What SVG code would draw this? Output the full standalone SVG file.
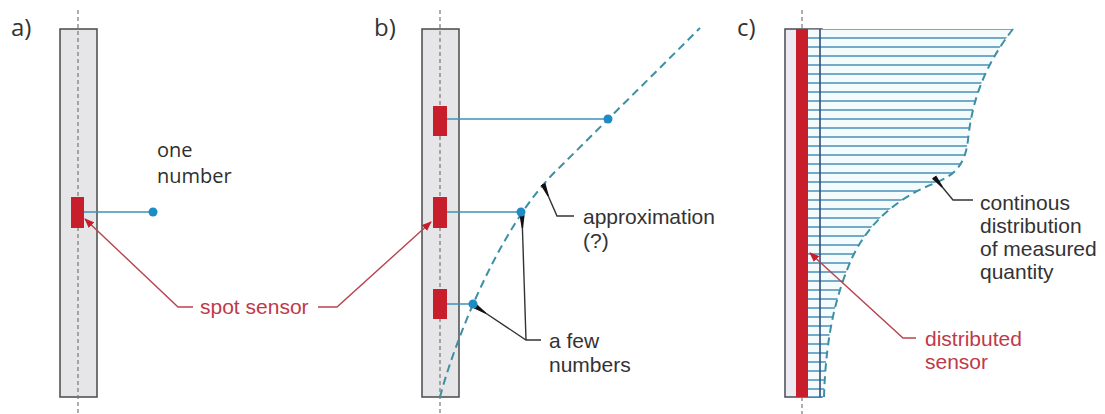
<svg xmlns="http://www.w3.org/2000/svg" width="1105" height="414" viewBox="0 0 1105 414">
<style>
.bar{fill:#e6e6e8;stroke:#4a4a4a;stroke-width:1.5}
.axis{stroke:#777;stroke-width:1.2;stroke-dasharray:4 3;fill:none}
.sensor{fill:#c81e2c}
.blue{stroke:#3f8fb8;stroke-width:1.5;fill:none}
.dot{fill:#1e8cc4}
.curve{stroke:#3d8fa3;stroke-width:2;stroke-dasharray:8 5;fill:none}
.rlead{stroke:#b9434f;stroke-width:1.4;fill:none}
.klead{stroke:#333;stroke-width:1.4;fill:none}
.hatch{stroke:#4a8fb4;stroke-width:1.3}
.lbl{font-family:"Open Sans","Liberation Sans",sans-serif;font-size:24px;fill:#333}
.t{font-family:"Liberation Sans",Arial,sans-serif;font-size:21px;fill:#333}
.t2{font-family:"Open Sans","Liberation Sans",sans-serif;font-size:20px;fill:#2e2e2e}
.tr{font-family:"Liberation Sans",Arial,sans-serif;font-size:21px;fill:#c0394a}
</style>
<defs>
<marker id="ra" viewBox="0 0 10 8" refX="9" refY="4" markerWidth="10" markerHeight="8" markerUnits="userSpaceOnUse" orient="auto-start-reverse">
<path d="M0,0 L10,4 L0,8 z" fill="#c81e2c"/>
</marker>
<marker id="ka" viewBox="0 0 13 6" refX="0" refY="3" markerWidth="13" markerHeight="6" markerUnits="userSpaceOnUse" orient="auto">
<path d="M0,0.4 L13,2.3 L13,3.7 L0,5.6 z" fill="#111"/>
</marker>
<clipPath id="cc">
<path d="M808,29 L1013,29 C985,65 972,100 968,140 C965,165 955,175 935,183 C900,197 870,220 852,258 C838,290 826,330 824,397 L808,397 z"/>
</clipPath>
</defs>

<g id="label-a"><text class="lbl" x="11" y="36">a)</text></g>
<g id="label-b"><text class="lbl" x="374" y="36">b)</text></g>
<g id="label-c"><text class="lbl" x="737" y="36">c)</text></g>

<g id="panel-a">
<rect class="bar" x="60" y="29" width="37" height="368"/>
<line class="axis" x1="78" y1="10" x2="78" y2="414"/>
<rect class="sensor" x="71" y="197" width="13" height="31"/>
</g>

<g id="panel-b">
<rect class="bar" x="422" y="29" width="37" height="368"/>
<line class="axis" x1="440" y1="10" x2="440" y2="414"/>
<rect class="sensor" x="433" y="106" width="14" height="30"/>
<rect class="sensor" x="433" y="197" width="14" height="31"/>
<rect class="sensor" x="433" y="289" width="14" height="30"/>
</g>

<g id="panel-c">
<rect x="785" y="29" width="37" height="368" fill="#ecebf2" stroke="#4a4a55" stroke-width="1.5"/>
<rect class="sensor" x="796" y="29" width="13" height="368"/>
<g clip-path="url(#cc)">
<rect x="808" y="29" width="210" height="368" fill="#f3fbfd"/>
<g class="hatch">
<line x1="800" y1="29" x2="1020" y2="29"/><line x1="800" y1="38" x2="1020" y2="38"/><line x1="800" y1="47" x2="1020" y2="47"/><line x1="800" y1="56" x2="1020" y2="56"/><line x1="800" y1="65" x2="1020" y2="65"/><line x1="800" y1="74" x2="1020" y2="74"/><line x1="800" y1="83" x2="1020" y2="83"/><line x1="800" y1="92" x2="1020" y2="92"/><line x1="800" y1="101" x2="1020" y2="101"/><line x1="800" y1="110" x2="1020" y2="110"/><line x1="800" y1="119" x2="1020" y2="119"/><line x1="800" y1="128" x2="1020" y2="128"/><line x1="800" y1="137" x2="1020" y2="137"/><line x1="800" y1="146" x2="1020" y2="146"/><line x1="800" y1="155" x2="1020" y2="155"/><line x1="800" y1="164" x2="1020" y2="164"/><line x1="800" y1="173" x2="1020" y2="173"/><line x1="800" y1="182" x2="1020" y2="182"/><line x1="800" y1="191" x2="1020" y2="191"/><line x1="800" y1="200" x2="1020" y2="200"/><line x1="800" y1="209" x2="1020" y2="209"/><line x1="800" y1="218" x2="1020" y2="218"/><line x1="800" y1="227" x2="1020" y2="227"/><line x1="800" y1="236" x2="1020" y2="236"/><line x1="800" y1="245" x2="1020" y2="245"/><line x1="800" y1="254" x2="1020" y2="254"/><line x1="800" y1="263" x2="1020" y2="263"/><line x1="800" y1="272" x2="1020" y2="272"/><line x1="800" y1="281" x2="1020" y2="281"/><line x1="800" y1="290" x2="1020" y2="290"/><line x1="800" y1="299" x2="1020" y2="299"/><line x1="800" y1="308" x2="1020" y2="308"/><line x1="800" y1="317" x2="1020" y2="317"/><line x1="800" y1="326" x2="1020" y2="326"/><line x1="800" y1="335" x2="1020" y2="335"/><line x1="800" y1="344" x2="1020" y2="344"/><line x1="800" y1="353" x2="1020" y2="353"/><line x1="800" y1="362" x2="1020" y2="362"/><line x1="800" y1="371" x2="1020" y2="371"/><line x1="800" y1="380" x2="1020" y2="380"/><line x1="800" y1="389" x2="1020" y2="389"/><line x1="800" y1="397" x2="1020" y2="397"/>
</g>
</g>
<line x1="820" y1="29" x2="820" y2="397" stroke="#2f4f7a" stroke-width="1.6"/>
<line class="axis" x1="802" y1="10" x2="802" y2="29"/>
<line class="axis" x1="802" y1="397" x2="802" y2="414"/>
<path class="curve" d="M1013,29 C985,65 972,100 968,140 C965,165 955,175 935,183 C900,197 870,220 852,258 C838,290 826,330 824,397"/>
</g>

<g id="connectors">
<line class="blue" x1="84" y1="212" x2="153" y2="212"/>
<line class="blue" x1="447" y1="119" x2="608" y2="119"/>
<line class="blue" x1="447" y1="212" x2="521" y2="212"/>
<line class="blue" x1="447" y1="304" x2="473" y2="304"/>
<path class="curve" d="M440,397 C452,350 498,225 560,167 L700,28"/>
<path class="rlead" marker-start="url(#ra)" d="M85,219 L178,307 L193,307"/>
<path class="rlead" marker-end="url(#ra)" d="M318,307 L337,307 L431,222"/>
<path class="klead" marker-start="url(#ka)" d="M543,184 L557,216 L574,216"/>
<path class="klead" marker-start="url(#ka)" d="M522,215 L526,340"/>
<path class="klead" marker-start="url(#ka)" d="M475,306 L526,340 L541,340"/>
<path class="klead" marker-start="url(#ka)" d="M934,177 L953,200 L973,200"/>
<path class="rlead" marker-start="url(#ra)" d="M810,253 L903,338 L916,338"/>
</g>

<g id="dots">
<circle class="dot" cx="153" cy="212" r="4.5"/>
<circle class="dot" cx="608" cy="119" r="4.5"/>
<circle class="dot" cx="521" cy="212" r="4.5"/>
<circle class="dot" cx="473" cy="304" r="4.5"/>
</g>

<g id="text-one-number"><text class="t2" x="157" y="157">one</text><text class="t2" x="157" y="183">number</text></g>
<g id="text-spot-sensor"><text class="tr" x="200" y="314">spot sensor</text></g>
<g id="text-approx"><text class="t" x="583" y="224">approximation</text><text class="t" x="583" y="248">(?)</text></g>
<g id="text-few"><text class="t" x="549" y="348">a few</text><text class="t" x="549" y="372">numbers</text></g>
<g id="text-continuous"><text class="t" x="980" y="210">continous</text><text class="t" x="980" y="233">distribution</text><text class="t" x="980" y="256">of measured</text><text class="t" x="980" y="279">quantity</text></g>
<g id="text-distributed"><text class="tr" x="925" y="346">distributed</text><text class="tr" x="925" y="369">sensor</text></g>
</svg>
